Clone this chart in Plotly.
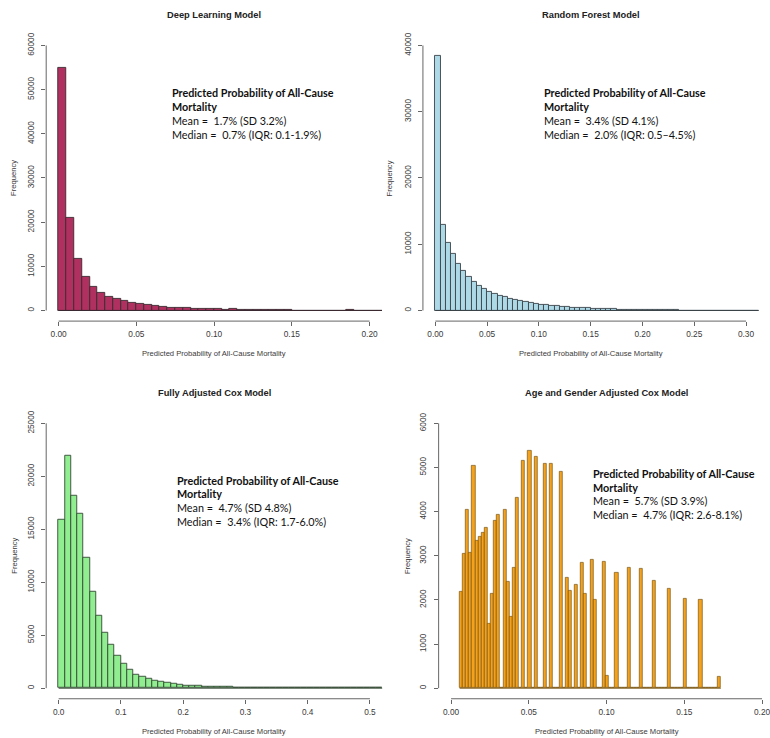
import plotly.graph_objects as go

W, H = 770, 738

# ---------------- data ----------------
titles = ["Deep Learning Model", "Random Forest Model",
          "Fully Adjusted Cox Model", "Age and Gender Adjusted Cox Model"]
x_axis_title = "Predicted Probability of All-Cause Mortality"
y_axis_title = "Frequency"
stats_head = ["Predicted Probability of All-Cause", "Mortality"]

# Deep learning model: histogram bins of width 0.005 starting at 0
dl_bin_start, dl_bin_width = 0.0, 0.005
dl_counts = [55000, 21000, 11600, 7700, 5300, 4050, 3100, 2550, 2100, 1730,
             1430, 1200, 980, 900, 680, 600, 600, 450, 450, 380,
             300, 230, 300, 220, 200, 150, 60, 50, 40, 35,
             30, 25, 20, 15, 10, 0, 0, 60, 0, 0,
             0, 0]
dl_xticks = [0.00, 0.05, 0.10, 0.15, 0.20]
dl_yticks = [0, 10000, 20000, 30000, 40000, 50000, 60000]
dl_stats = ["Mean =\u00a0 1.7% (SD 3.2%)", "Median =\u00a0 0.7% (IQR: 0.1-1.9%)"]

# Random forest model
rf_bin_start, rf_bin_width = 0.0, 0.005
rf_counts = [38500, 12900, 10200, 8500, 7000, 6000, 5100, 4300, 3700, 3200,
             2850, 2500, 2250, 2000, 1750, 1550, 1380, 1230, 1100, 980,
             880, 790, 710, 640, 570, 510, 460, 410, 370, 330,
             300, 270, 240, 215, 190, 170, 150, 130, 110, 95,
             80, 70, 60, 50, 42, 35, 28, 0, 0, 0,
             0, 0, 0, 0, 0, 0, 0, 0, 0, 0,
             0, 0, 0]
rf_xticks = [0.00, 0.05, 0.10, 0.15, 0.20, 0.25, 0.30]
rf_yticks = [0, 10000, 20000, 30000, 40000]
rf_stats = ["Mean =\u00a0 3.4% (SD 4.1%)", "Median =\u00a0 2.0% (IQR: 0.5\u20134.5%)"]

# Fully adjusted Cox model
fc_bin_start, fc_bin_width = 0.0, 0.01
fc_counts = [15900, 21900, 18200, 16500, 12300, 9100, 6800, 5200, 4100, 3100,
             2300, 1700, 1300, 1070, 880, 720, 600, 480, 380, 320,
             270, 230, 200, 170, 140, 110, 130, 90, 70, 60,
             50, 40, 35, 30, 25, 20, 15, 0, 60, 0,
             0, 0, 0, 0, 0, 0, 0, 0, 0, 0,
             0, 0]
fc_xticks = [0.0, 0.1, 0.2, 0.3, 0.4, 0.5]
fc_yticks = [0, 5000, 10000, 15000, 20000, 25000]
fc_stats = ["Mean =\u00a0 4.7% (SD 4.8%)", "Median =\u00a0 3.4% (IQR: 1.7-6.0%)"]

# Age and gender adjusted Cox model
ag_bin_start, ag_bin_width = 0.0055, 0.002
ag_counts = [2190, 3040, 4040, 3060, 5030, 3330, 3420, 3520, 3630, 1460,
             2150, 3790, 3940, 0, 4050, 2415, 1625, 2720, 4320, 0,
             5150, 0, 5390, 0, 5250, 0, 0, 5090, 0, 5090,
             0, 0, 4900, 0, 2510, 2200, 0, 2340, 0, 2840,
             2150, 0, 2900, 2010, 0, 0, 2870, 293, 0, 0,
             2610, 0, 0, 0, 2730, 0, 0, 0, 2700, 0,
             0, 0, 2430, 0, 0, 0, 0, 2250, 0, 0,
             0, 0, 2030, 0, 0, 0, 0, 2010, 0, 0,
             0, 0, 0, 270]
ag_xticks = [0.00, 0.05, 0.10, 0.15, 0.20]
ag_yticks = [0, 1000, 2000, 3000, 4000, 5000, 6000]
ag_stats = ["Mean =\u00a0 5.7% (SD 3.9%)", "Median =\u00a0 4.7% (IQR: 2.6-8.1%)"]

# ---------------- styling / layout ----------------
panels = [
    dict(counts=dl_counts, start=dl_bin_start, width=dl_bin_width, xt=dl_xticks, yt=dl_yticks,
         xfmt=".2f", stats=dl_stats, color="#B03060", line="#3a2a30",
         px=(46.5, 384.5), py=(32.0, 319.4), xr=(-0.008, 0.208), yr=(-2400, 62400),
         ann_x=171, ann_y=(90, 104, 118, 132), ytitle_x=14),
    dict(counts=rf_counts, start=rf_bin_start, width=rf_bin_width, xt=rf_xticks, yt=rf_yticks,
         xfmt=".2f", stats=rf_stats, color="#ADD8E6", line="#3a4448",
         px=(425.7, 763.4), py=(32.0, 319.4), xr=(-0.012, 0.312), yr=(-1600, 41600),
         ann_x=546, ann_y=(90, 104, 118, 132), ytitle_x=393),
    dict(counts=fc_counts, start=fc_bin_start, width=fc_bin_width, xt=fc_xticks, yt=fc_yticks,
         xfmt=".1f", stats=fc_stats, color="#90EE90", line="#344a34",
         px=(46.5, 384.9), py=(411.4, 698.6), xr=(-0.02, 0.52), yr=(-1000, 26000),
         ann_x=176, ann_y=(479, 493, 507, 521), ytitle_x=15),
    dict(counts=ag_counts, start=ag_bin_start, width=ag_bin_width, xt=ag_xticks, yt=ag_yticks,
         xfmt=".2f", stats=ag_stats, color="#F4A21C", line="#7a5410",
         px=(441.5, 770.0), py=(411.4, 698.6), xr=(-0.008, -0.008 + (770 - 441.5) / 1565.0),
         yr=(-240, 6240), ann_x=595, ann_y=(472, 486, 500, 514), ytitle_x=410),
]

TICK_FONT = dict(family="Liberation Sans, Arial, sans-serif", size=8.3, color="#3a3a3a")
TITLE_FONT = dict(family="Liberation Sans, Arial, sans-serif", size=9.3, color="#222222")
AXT_FONT = dict(family="Liberation Sans, Arial, sans-serif", size=7.6, color="#3a3a3a")
ANN_FONT = "Lato, Carlito, Calibri, sans-serif"

fig = go.Figure()
shapes = []
annotations = []

def fx(p):
    return p / W

def fy(p):
    return 1 - p / H

for i, p in enumerate(panels):
    n = i + 1
    xa = "x" if n == 1 else f"x{n}"
    ya = "y" if n == 1 else f"y{n}"
    centers = [p["start"] + (k + 0.5) * p["width"] for k in range(len(p["counts"]))]
    lw = 0.7 if n == 4 else 0.9
    fig.add_trace(go.Bar(
        x=centers, y=p["counts"], width=p["width"],
        marker=dict(color=p["color"], line=dict(color=p["line"], width=lw)),
        xaxis=xa, yaxis=ya, showlegend=False, hoverinfo="x+y"))

    # zero baseline across all bins (R draws empty bins as flat rectangles)
    shapes.append(dict(type="line", xref=xa, yref=ya,
                       x0=p["start"], x1=p["start"] + len(p["counts"]) * p["width"],
                       y0=0, y1=0, line=dict(color=p["line"], width=1)))

    xdom = [fx(p["px"][0]), fx(p["px"][1])]
    ydom = [fy(p["py"][1]), fy(p["py"][0])]
    axis_common = dict(showgrid=False, zeroline=False, showline=False,
                       ticks="outside", ticklen=4, tickwidth=1, tickcolor="#666666",
                       tickfont=TICK_FONT, fixedrange=True)
    fig.update_layout(**{
        ("xaxis" if n == 1 else f"xaxis{n}"): dict(
            domain=xdom, range=list(p["xr"]), anchor=ya, tickvals=p["xt"],
            tickformat=p["xfmt"], ticklabelstandoff=1, ticklabeloverflow="allow",
            **axis_common),
        ("yaxis" if n == 1 else f"yaxis{n}"): dict(
            domain=ydom, range=list(p["yr"]), anchor=xa, tickvals=p["yt"],
            tickformat="d", tickangle=-90, ticklabelstandoff=4, **axis_common),
    })
    # R-style axis lines spanning only the tick range
    shapes.append(dict(type="line", xref=xa, yref="paper",
                       x0=p["xt"][0], x1=p["xt"][-1], y0=ydom[0], y1=ydom[0],
                       line=dict(color="#666666", width=1)))
    shapes.append(dict(type="line", xref="paper", yref=ya,
                       x0=xdom[0], x1=xdom[0], y0=p["yt"][0], y1=p["yt"][-1],
                       line=dict(color="#666666", width=1)))

    cx = (p["px"][0] + p["px"][1]) / 2
    if n == 4:
        cx = 610.5
    top = p["py"][0]
    bottom = p["py"][1]
    # panel title
    annotations.append(dict(text=f"<b>{titles[i]}</b>", xref="paper", yref="paper",
                            x=fx(cx), y=fy(top - 20), xanchor="center", yanchor="middle",
                            showarrow=False, font=TITLE_FONT))
    # axis titles
    annotations.append(dict(text=x_axis_title, xref="paper", yref="paper",
                            x=fx(cx), y=fy(bottom + 33), xanchor="center", yanchor="middle",
                            showarrow=False, font=AXT_FONT))
    annotations.append(dict(text=y_axis_title, xref="paper", yref="paper",
                            x=fx(p["ytitle_x"]), y=fy((top + bottom) / 2), xanchor="center",
                            yanchor="middle", textangle=-90, showarrow=False, font=AXT_FONT))
    # statistics text
    lines = [f"<b>{stats_head[0]}</b>", f"<b>{stats_head[1]}</b>"] + p["stats"]
    for t, yy in zip(lines, p["ann_y"]):
        annotations.append(dict(text=t, xref="paper", yref="paper", x=fx(p["ann_x"]),
                                y=fy(yy), xanchor="left", yanchor="middle", showarrow=False,
                                font=dict(family=ANN_FONT, size=10.8, color="#111111")))

fig.update_layout(width=W, height=H, margin=dict(l=0, r=0, t=0, b=0),
                  paper_bgcolor="white", plot_bgcolor="white",
                  shapes=shapes, annotations=annotations, bargap=0)

fig.write_html("out.html")
